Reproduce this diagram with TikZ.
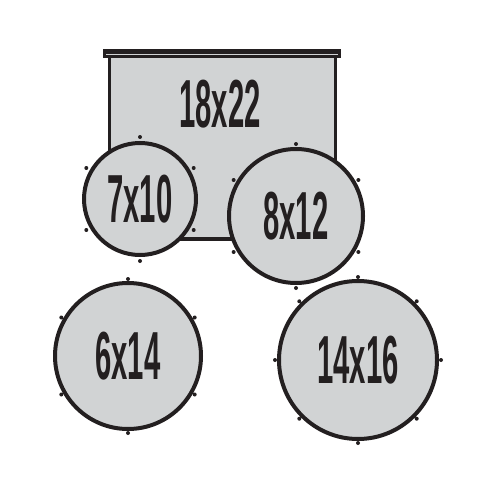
\documentclass[tikz,border=0pt]{standalone}
\usepackage{fontspec}
\newfontfamily\cond[FakeStretch=0.43]{Liberation Sans Bold}
\definecolor{ink}{HTML}{231F20}
\definecolor{pale}{HTML}{D1D3D4}
\begin{document}
\begin{tikzpicture}[x=1pt,y=-1pt,
  lbl/.style={font=\cond\fontsize{68}{68}\selectfont, text=ink, inner sep=0pt},
  drum/.style={circle, draw=ink, fill=pale, line width=4pt, inner sep=0pt,
    font=\cond\fontsize{68}{68}\selectfont, text=ink},
  dotm/.style={fill=ink}]
\useasboundingbox (0,0) rectangle (500,500);
% screen
\node[draw=ink, fill=pale, line width=3pt, minimum width=226pt, minimum height=182pt, inner sep=0pt] (screen) at (222,147) {};
\coordinate (bl) at (109,240);
\coordinate (br) at (335,240);
\draw[ink, line width=2pt] (bl) -- (br);
\fill[ink] (103,49) rectangle (341,58);
\draw[pale, line width=1pt] (106,54.5) -- (338,54.5);
\node[lbl] (t18) at (220,104) {18x22};
% drums
\node[drum, minimum size=112pt] (d7) at (140,199) {7x10};
\node[drum, minimum size=134pt] (d8) at (296,216) {8x12};
\node[drum, minimum size=146pt] (d6) at (128,356) {6x14};
\node[drum, minimum size=158pt] (d14) at (358,360) {14x16};
\foreach \a in {30,90,...,330} {
  \fill[dotm] (d7.center) ++(\a:62) circle (2pt);
  \fill[dotm] (d8.center) ++(\a:72) circle (2pt);
  \fill[dotm] (d6.center) ++(\a:77) circle (2pt);
}
\foreach \a in {0,45,...,315} {
  \fill[dotm] (d14.center) ++(\a:83) circle (2pt);
}
\end{tikzpicture}
\end{document}
